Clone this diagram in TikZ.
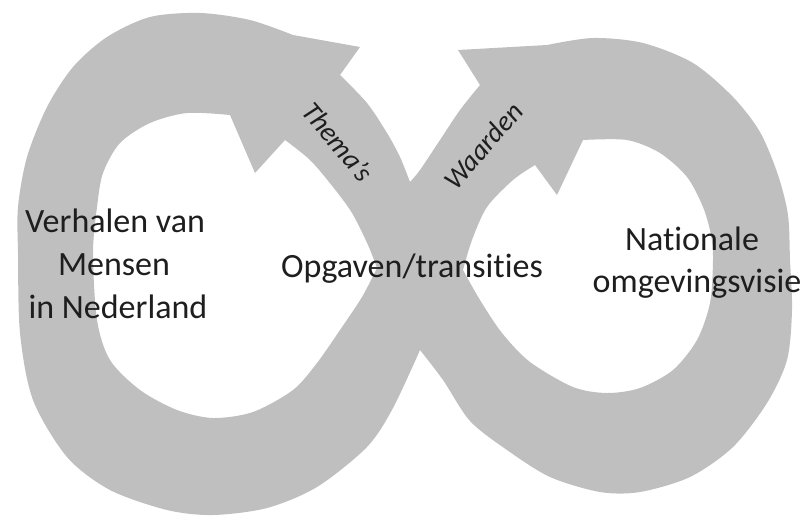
\documentclass[tikz,border=0pt]{standalone}
\usepackage{fontspec}
\setmainfont{Carlito}[Ligatures=NoCommon,RawFeature=-liga]
\definecolor{bandgray}{RGB}{191,191,191}
\definecolor{txt}{RGB}{30,30,30}
\tikzset{
  band/.style={fill=bandgray, even odd rule},
  lbl/.style={inner sep=0pt, anchor=base, text=txt, font=\fontsize{34}{43}\selectfont},
  flowlbl/.style={inner sep=0pt, text=txt, font=\fontsize{28}{32}\selectfont\itshape}
}
\begin{document}
\begin{tikzpicture}[x=1pt,y=-1pt]
\useasboundingbox (0,0) rectangle (805,517);
% silhouette: outer boundary + two holes
\fill[band]
  plot[smooth] coordinates {(293,35) (250,20) (200,13) (150,17) (107,37) (73,67) (47,107) (27,157) (18,207) (18,253) (20,333) (33,400) (67,457) (110,490) (167,510) (213,515) (267,508) (317,487) (367,447) (393,408) (420,350)}
  -- plot[smooth] coordinates {(420,350) (443,380) (470,421) (507,450) (550,477) (600,492) (640,492) (690,477) (733,447) (767,403) (787,360) (792,310) (790,260) (788,215) (778,175) (760,132) (733,97) (693,63) (643,43) (593,38) (547,45)}
  -- (458,50) -- (480,85)
  -- plot[smooth] coordinates {(480,85) (460,110) (440,140) (420,170) (410,182)}
  -- plot[smooth] coordinates {(410,182) (400,157) (387,133) (367,103) (340,75)}
  -- (360,47) -- cycle
  % left hole
  plot[smooth] coordinates {(377,268) (362,297) (340,330) (317,363) (293,390) (253,412) (213,418) (177,410) (140,390) (110,360) (97,320) (93,253) (97,207) (103,173) (120,143) (150,123) (187,113) (230,115)}
  -- (255,173) -- (285,140)
  -- plot[smooth] coordinates {(285,140) (310,160) (333,187) (352,213) (368,245) (377,268)}
  -- cycle
  % right hole
  plot[smooth] coordinates {(463,270) (480,300) (502,333) (530,362) (573,387) (607,393) (640,388) (673,370) (697,340) (710,303) (713,260) (711,235) (703,207) (687,177) (660,153) (627,140) (583,140)}
  -- (557,195) -- (535,165)
  -- plot[smooth] coordinates {(535,165) (513,180) (487,207) (472,240) (463,270)}
  -- cycle;
% labels
\node[lbl] (v1) at (115,232) {Verhalen van};
\node[lbl] (v2) at (114,275) {Mensen};
\node[lbl] (v3) at (118,318) {in Nederland};
\node[lbl] (og) at (412,277) {Opgaven/transities};
\node[lbl] (n1) at (692,250) {Nationale};
\node[lbl] (n2) at (697,292) {omgevingsvisie};
\node[flowlbl, rotate=-50] (th) at (338,142) {Thema’s};
\node[flowlbl, rotate=49] (wa) at (483,146) {Waarden};
\end{tikzpicture}
\end{document}
